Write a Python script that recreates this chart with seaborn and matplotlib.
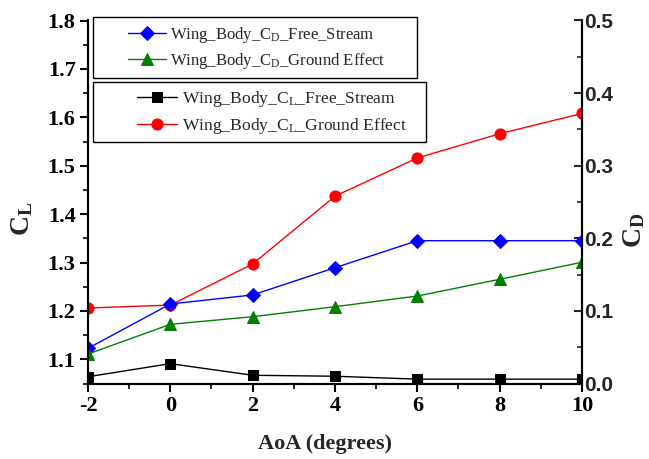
import matplotlib
matplotlib.use("Agg")
import matplotlib.pyplot as plt
import matplotlib.patches as mpatches
import seaborn as sns
import pandas as pd
from matplotlib.ticker import MultipleLocator, FormatStrFormatter

aoa = [-2, 0, 2, 4, 6, 8, 10]
cl_free = [1.064, 1.091, 1.067, 1.065, 1.059, 1.059, 1.059]
cl_ground = [1.206, 1.212, 1.297, 1.437, 1.516, 1.566, 1.608]
cd_free = [0.0485, 0.1095, 0.122, 0.1595, 0.1967, 0.1967, 0.1967]
cd_ground = [0.0406, 0.0815, 0.092, 0.1058, 0.1205, 0.1435, 0.167]

lbl_cd_free = r"Wing_Body_C$_\mathrm{D}$_Free_Stream"
lbl_cd_ground = r"Wing_Body_C$_\mathrm{D}$_Ground Effect"
lbl_cl_free = r"Wing_Body_C$_\mathrm{L}$_Free_Stream"
lbl_cl_ground = r"Wing_Body_C$_\mathrm{L}$_Ground Effect"

sns.set_style("ticks")
plt.rcParams['font.family'] = ['Liberation Serif', 'DejaVu Serif']
plt.rcParams['mathtext.fontset'] = 'custom'
plt.rcParams['mathtext.rm'] = 'Liberation Serif'
plt.rcParams['mathtext.it'] = 'Liberation Serif:italic'
plt.rcParams['mathtext.bf'] = 'Liberation Serif:bold'

W, H = 649, 459
fig = plt.figure(figsize=(W/100, H/100), dpi=100)
ax = fig.add_axes([88/W, 1-383.5/H, (582-88)/W, (383.5-20.5)/H])
ax2 = ax.twinx()

df_cl = pd.DataFrame({"aoa": aoa, "free": cl_free, "ground": cl_ground})
df_cd = pd.DataFrame({"aoa": aoa, "free": cd_free, "ground": cd_ground})

sns.lineplot(data=df_cl, x="aoa", y="free", ax=ax, color="black", marker="s",
             markersize=7, markeredgecolor="black", linewidth=1, legend=False)
sns.lineplot(data=df_cl, x="aoa", y="ground", ax=ax, color="red", marker="o",
             markersize=8, markeredgecolor="red", linewidth=1, legend=False)
sns.lineplot(data=df_cd, x="aoa", y="free", ax=ax2, color="blue", marker="D",
             markersize=7, markeredgecolor="blue", linewidth=1, legend=False)
sns.lineplot(data=df_cd, x="aoa", y="ground", ax=ax2, color="green", marker="^",
             markersize=8, markeredgecolor="green", linewidth=1, legend=False)

l_clf, l_clg = ax.get_lines()[:2]
l_cdf, l_cdg = ax2.get_lines()[:2]

ax.set_xlim(-2, 10)
ax.set_ylim(1.05, 1.8)

ax.xaxis.set_major_locator(MultipleLocator(2))
ax.xaxis.set_minor_locator(MultipleLocator(1))
ax.yaxis.set_major_locator(MultipleLocator(0.1))
ax.yaxis.set_minor_locator(MultipleLocator(0.05))
ax2.yaxis.set_major_locator(MultipleLocator(0.1))
ax2.yaxis.set_minor_locator(MultipleLocator(0.05))
ax2.set_ylim(0.0, 0.5)

for a in (ax, ax2):
    for s in a.spines.values():
        s.set_linewidth(1.5)
        s.set_color("black")
    a.spines["top"].set_visible(False)

ax.tick_params(axis="both", which="major", direction="out", length=6, width=1.5, colors="black", pad=3)
ax.tick_params(axis="both", which="minor", direction="out", length=3.5, width=1.2, colors="black")
ax.tick_params(axis="y", right=False)
ax2.tick_params(axis="y", which="major", direction="in", length=6, width=1.5, pad=1.5)
ax2.tick_params(axis="y", which="minor", direction="in", length=3.5, width=1.2)

ax.yaxis.set_major_formatter(FormatStrFormatter("%.1f"))
ax2.yaxis.set_major_formatter(FormatStrFormatter("%.1f"))
ax.xaxis.set_major_formatter(FormatStrFormatter("%d"))
for t in ax.get_xticklabels() + ax.get_yticklabels():
    t.set_fontfamily("Liberation Serif")
    t.set_fontweight("bold")
    t.set_fontsize(16)
for t in ax2.get_yticklabels():
    t.set_fontfamily("Liberation Sans")
    t.set_fontweight("bold")
    t.set_fontsize(15)

ax.set_xlabel("AoA (degrees)", fontsize=16, fontweight="bold")
ax.xaxis.set_label_coords((325.5-88)/(582-88), -(444-383.5)/363)
ax.xaxis.label.set_va("center")
ax.set_ylabel(r"$\mathbf{C_L}$", fontsize=20)
ax.yaxis.set_label_coords((22-88)/(582-88), (383.5-219)/363)
ax.yaxis.label.set_va("center")
ax2.set_ylabel(r"$\mathbf{C_D}$", fontsize=20)
ax2.yaxis.set_label_coords((634-88)/(582-88), (383.5-230)/363)
ax2.yaxis.label.set_va("center")

def fx(px):
    return px / W

def fy(py):
    return 1 - py / H

# legend frames (Origin-style boxes)
for (x0, y0, x1, y1) in [(93, 17, 417, 78), (93, 81.5, 426, 141.5)]:
    r = mpatches.Rectangle((fx(x0), fy(y1)), fx(x1) - fx(x0), fy(y0) - fy(y1),
                           transform=fig.transFigure, facecolor="white",
                           edgecolor="black", linewidth=1.0, zorder=4, clip_on=False)
    ax2.add_artist(r)

leg1 = ax2.legend([l_cdf, l_cdg], [lbl_cd_free, lbl_cd_ground], loc="center left",
                  bbox_to_anchor=(fx(127.7), fy(48)), bbox_transform=fig.transFigure,
                  borderaxespad=0, borderpad=0, fontsize=12, frameon=False,
                  handlelength=2.3, handletextpad=0.25, labelspacing=0.38)
leg1.set_zorder(5)
ax2.add_artist(leg1)
leg2 = ax2.legend([l_clf, l_clg], [lbl_cl_free, lbl_cl_ground], loc="center left",
                  bbox_to_anchor=(fx(136.7), fy(112.5)), bbox_transform=fig.transFigure,
                  borderaxespad=0, borderpad=0, fontsize=12.6, frameon=False,
                  handlelength=2.3, handletextpad=0.28, labelspacing=0.42)
leg2.set_zorder(5)

fig.savefig("out.png", dpi=100)
